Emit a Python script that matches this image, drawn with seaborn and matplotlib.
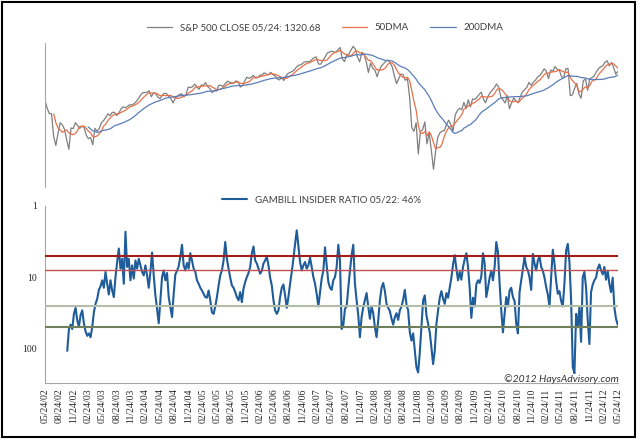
import pandas as pd
import matplotlib
matplotlib.use('Agg')
import matplotlib.pyplot as plt
from matplotlib.patches import Rectangle
from matplotlib.ticker import NullLocator
import seaborn as sns

# S&P 500 closes, about two per month, 05/24/02 .. 05/24/12
spx_close = [
    1083, 1027, 990, 989, 847, 797, 864, 930, 916, 889, 827, 776, 897, 894, 930, 912, 895,
    908, 901, 855, 834, 841, 800, 895, 878, 893, 930, 944, 964, 988, 976, 998, 998, 977,
    993, 1021, 1036, 1029, 1039, 1051, 1050, 1058, 1074, 1095,
    1122, 1141, 1142, 1144, 1156, 1110, 1141, 1134, 1107, 1095, 1121, 1137, 1134, 1113,
    1096, 1064, 1099, 1114, 1128, 1132, 1108, 1130, 1185, 1182, 1189, 1210,
    1186, 1168, 1203, 1201, 1222, 1190, 1173, 1142, 1157, 1154, 1198, 1201, 1191, 1212,
    1234, 1226, 1220, 1218, 1237, 1229, 1186, 1199, 1235, 1268, 1259, 1268,
    1285, 1261, 1264, 1287, 1287, 1307, 1295, 1289, 1311, 1291, 1280, 1253, 1245, 1265,
    1240, 1279, 1302, 1311, 1320, 1336, 1362, 1377, 1380, 1400, 1409, 1410,
    1409, 1431, 1449, 1456, 1388, 1386, 1421, 1452, 1494, 1505, 1515, 1507, 1503, 1530,
    1553, 1434, 1411, 1474, 1484, 1527, 1565, 1536, 1453, 1408, 1504, 1484,
    1411, 1310, 1396, 1349, 1331, 1273, 1330, 1370, 1390, 1414, 1425, 1400, 1360, 1278,
    1214, 1257, 1296, 1292, 1242, 1255, 1106, 899, 877, 930, 752, 876, 887,
    935, 805, 869, 770, 677, 768, 843, 869, 878, 882, 919, 946, 918, 879, 979, 1010,
    1026, 1016, 1068, 1025, 1087, 1036, 1093, 1091, 1106, 1127,
    1145, 1092, 1066, 1109, 1139, 1160, 1179, 1211, 1187, 1111, 1087, 1064, 1117, 1023,
    1065, 1102, 1079, 1065, 1110, 1148, 1166, 1183, 1225, 1199, 1225, 1244,
    1271, 1283, 1310, 1343, 1321, 1257, 1332, 1320, 1364, 1338, 1331, 1271, 1268, 1344,
    1345, 1119, 1124, 1174, 1216, 1131, 1099, 1238, 1253, 1159, 1255, 1265,
    1278, 1315, 1344, 1361, 1370, 1404, 1419, 1370, 1403, 1353, 1295, 1320,
]

# Gambill insider ratio, roughly every 10 days from 10/2002 to 05/22/12
insider_ratio = [
    107, 53, 46, 53, 32.5, 26.7, 40, 49, 34, 29, 44, 57, 66, 61, 69, 50, 31, 23.5, 20, 15,
    13.4, 11, 14, 8.4, 12.3, 17.4, 11, 15.3, 18.9, 9.9, 6.1, 3.95, 7.55, 5.5, 12.3, 2.3,
    7.15, 5.5, 11, 6.8, 10.4, 5.8, 7.55, 5.5, 6.8, 8.4, 9.4, 6.8, 9.4, 14, 8.4, 4.5, 9.4,
    17.9, 27.6, 44, 21, 9.9, 8, 11, 8.7, 18.9, 26.2, 36, 17, 9.1, 8.1, 7, 5.1, 3.5, 6.8,
    8, 6.3, 7.55, 4.6, 5.8, 7.55, 8.4,
    11, 12.3, 14, 15.3, 17, 18.9, 19.3, 15.3, 21, 31, 32.5, 25.6, 18.9, 13, 9.4, 8, 5.8,
    3.2, 5.5, 7.55, 10.1, 13, 14, 16.1, 18.9, 21, 16.1, 22.3, 14.4, 11.6, 9.9, 8.7, 7.15,
    4.6, 3.7, 5.8, 6.4, 7.55, 8.9, 8.1, 6.4, 5.8, 5.1, 6.8, 10.1, 13, 21, 29, 32.5, 29,
    18.9, 14, 12.6, 17.9, 26.7, 18.9, 12.3, 8.4, 5.5, 3.4, 2.2, 3.7, 6.1, 8, 6.8, 6.1,
    7.55, 6.8, 5.3, 7.15, 9.9, 12.3, 17, 25.6, 16.1, 10.4, 8, 3.8, 6.8, 11.6, 14, 15, 11,
    9.9, 7.15, 3.5, 5.8,
    53, 47, 27.6, 25.6, 14, 8.1, 4.9, 3.5, 12.3, 21, 34, 69, 36, 26.2, 21, 16.6, 25.6, 38,
    25.6, 31.8, 50, 69, 40, 21, 14, 12, 15.6, 23.5, 26.7, 29.8, 38, 46, 36, 31.8, 39.5,
    29, 25.6, 20.6, 15, 24, 29, 59, 77, 61, 107, 183, 215, 113, 50, 21, 17.9, 34, 45, 59,
    96, 164, 107, 45, 29, 19.3, 15.6, 20, 23.5, 16.6, 19.3, 14, 10.1, 6.6, 4.9, 7.55, 11,
    8.4, 10.8, 7.15, 5.6, 4.6, 7.15, 14, 37, 19.3, 25.6, 12.6, 11, 12, 9.7, 4.6, 6.4,
    18.9, 14, 10.1, 8.1, 11, 7.15, 3.2, 4.4, 12.3, 29, 59, 32.5, 18.9, 25.6, 15.3, 14,
    18.9, 21.5, 45, 61, 16.1, 11, 7.55, 5.2, 7.15, 8, 10.1, 15, 4.7, 6.4, 8, 5.8, 5.1,
    7.15, 8.1, 10.1, 13.7, 17.4, 25.6, 9.9, 4.1, 6.4, 11.3, 17, 15.6, 21.5, 25.6, 12, 4.2,
    3.4, 6.1, 21, 180, 220, 32.5, 50, 26.2, 80, 9.9, 8.4, 14, 40, 86, 16.1, 12.6, 11,
    10.1, 7.55, 6.6, 8, 9.1, 7.15, 10.8, 8.1, 12.3, 16.1, 10.1, 26.2, 38, 46,
]

spx_start, spx_end = '2002-05-24', '2012-05-24'
ratio_start, ratio_end = '2002-10-13', '2012-05-22'
red_levels = [5, 8]
gray_levels = [25, 50]

sns.set_style('white')
plt.rcParams['font.family'] = ['Lato', 'DejaVu Sans']

spx = pd.DataFrame({'date': pd.date_range(spx_start, spx_end, periods=len(spx_close)),
                    'close': spx_close})
# about 5 points ~ 50 trading days, 21 points ~ 200 trading days
spx['dma50'] = spx['close'].rolling(5).mean()
spx['dma200'] = spx['close'].rolling(21).mean()

ratio = pd.DataFrame({'date': pd.date_range(ratio_start, ratio_end, periods=len(insider_ratio)),
                      'ratio': insider_ratio})

tick_dates = [pd.Timestamp(spx_start) + pd.DateOffset(months=3 * i) for i in range(41)]
xmin, xmax = pd.Timestamp(spx_start), pd.Timestamp(spx_end)

fig = plt.figure(figsize=(6.4, 4.4), dpi=100)
ax1 = fig.add_axes([0.0703, 0.575, 0.8953, 0.327])
ax2 = fig.add_axes([0.0703, 0.130, 0.8953, 0.402])

# top panel: S&P with moving averages
sns.lineplot(data=spx, x='date', y='close', ax=ax1, color='#7f7f7f', lw=0.9,
             label='S&P 500 CLOSE 05/24: 1320.68')
sns.lineplot(data=spx, x='date', y='dma50', ax=ax1, color='#e8714a', lw=0.9, label='50DMA')
sns.lineplot(data=spx, x='date', y='dma200', ax=ax1, color='#5b7db8', lw=0.9, label='200DMA')
ax1.set_yscale('log')
ax1.set_ylim(600, 1600)
ax1.set_xlim(xmin, xmax)
ax1.set_xticks([])
ax1.set_yticks([])
ax1.yaxis.set_minor_locator(NullLocator())
ax1.set_xlabel('')
ax1.set_ylabel('')
for s in ['top', 'right', 'bottom']:
    ax1.spines[s].set_visible(False)
ax1.spines['left'].set_color('#a6a6a6')
ax1.legend(loc='center', bbox_to_anchor=(0.508, 0.937), bbox_transform=fig.transFigure,
           ncol=3, frameon=False, fontsize=7, handlelength=2.6, columnspacing=2.2,
           labelcolor='#404040')

# bottom panel: insider ratio, inverted log scale
sns.lineplot(data=ratio, x='date', y='ratio', ax=ax2, color='#1f5c9a', lw=1.5,
             label='GAMBILL INSIDER RATIO 05/22: 46%')
ax2.axhline(red_levels[0], color='#a31d1d', lw=1.5, zorder=3)
ax2.axhline(red_levels[1], color='#c0504d', lw=1.0, zorder=3)
ax2.axhline(gray_levels[0], color='#b4bcaa', lw=1.5, zorder=3)
ax2.axhline(gray_levels[1], color='#6f7f5c', lw=1.5, zorder=3)
ax2.set_yscale('log')
ax2.set_ylim(300, 1)
ax2.set_yticks([1, 10, 100])
ax2.set_yticklabels(['1', '10', '100'], family='Liberation Serif', fontsize=7)
ax2.yaxis.set_minor_locator(NullLocator())
ax2.set_xlim(xmin, xmax)
ax2.set_xticks(tick_dates)
ax2.set_xticklabels([d.strftime('%m/%d/%y') for d in tick_dates], rotation=90,
                    family='Liberation Serif', fontsize=7)
ax2.tick_params(axis='x', direction='inout', length=4, color='#a6a6a6', pad=2)
ax2.tick_params(axis='y', length=0, pad=6)
ax2.set_xlabel('')
ax2.set_ylabel('')
for s in ['top', 'right']:
    ax2.spines[s].set_visible(False)
ax2.spines['left'].set_color('#a6a6a6')
ax2.spines['bottom'].set_color('#a6a6a6')
ax2.legend(loc='center', bbox_to_anchor=(0.502, 0.545), bbox_transform=fig.transFigure,
           frameon=False, fontsize=7, handlelength=2.6, labelcolor='#404040')

fig.text(0.967, 0.139, '\u00a92012 HaysAdvisory.com', ha='right', va='center',
         style='italic', fontsize=7.5, color='#333333')
fig.add_artist(Rectangle((0.003, 0.007), 0.989, 0.988, transform=fig.transFigure,
                         fill=False, ec='black', lw=1.5))

fig.savefig('out.png', dpi=100)
